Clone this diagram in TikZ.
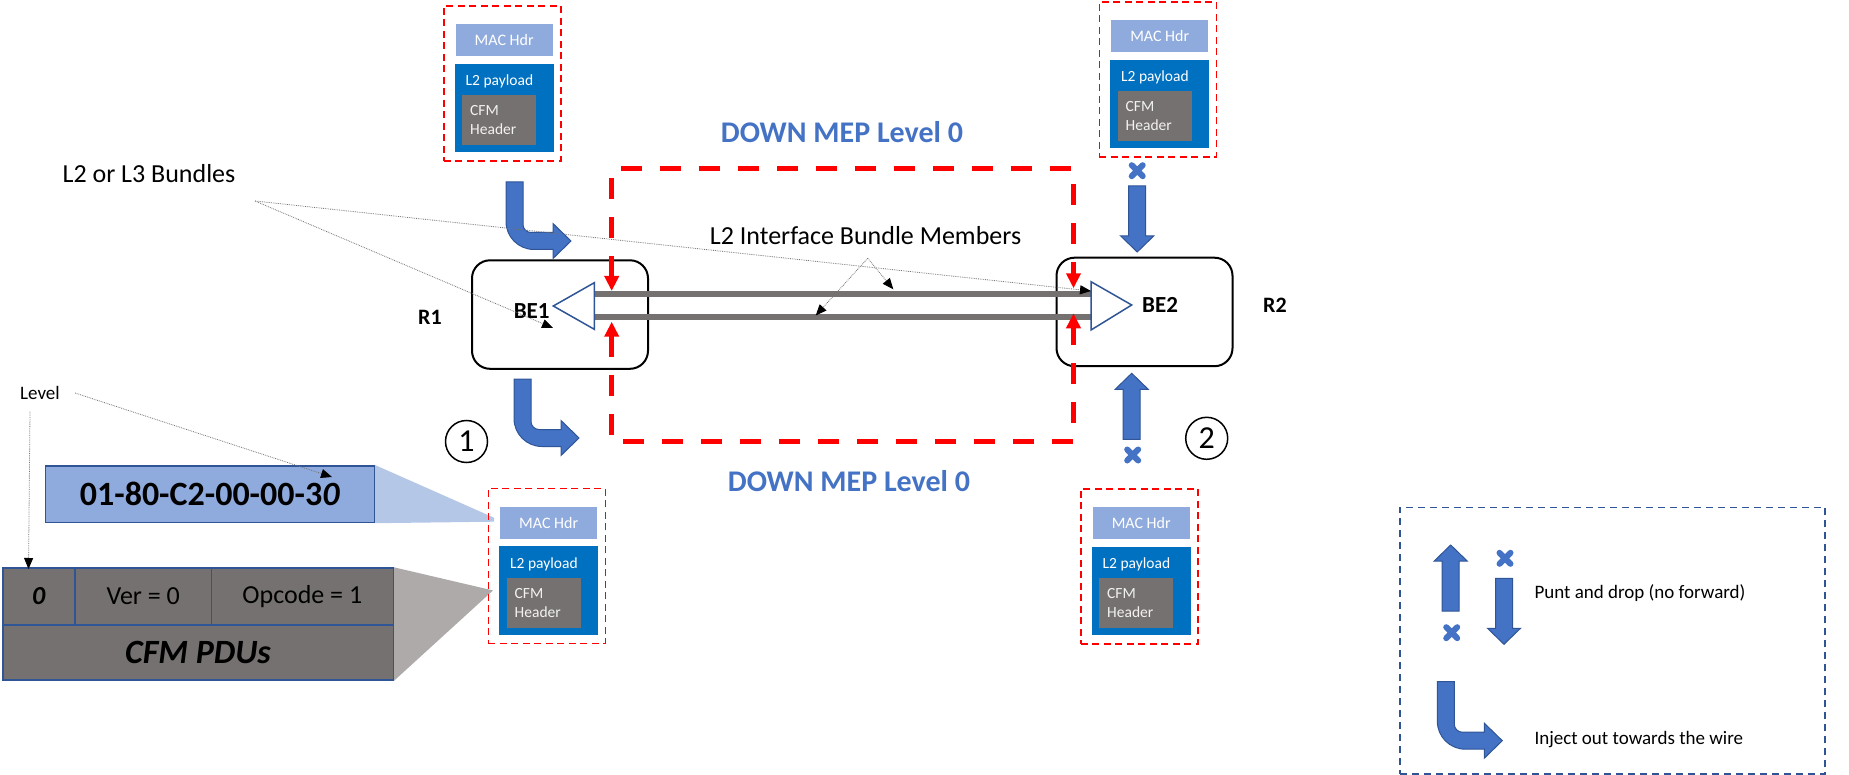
\documentclass[tikz,border=0pt]{standalone}
\usepackage{fontspec}
\setmainfont{Carlito}
\usetikzlibrary{arrows.meta,backgrounds}
\definecolor{arrowblue}{HTML}{4472C4}
\definecolor{darkblue}{HTML}{2F5597}
\definecolor{hdrblue}{HTML}{8FAADC}
\definecolor{payblue}{HTML}{0070C0}
\definecolor{cfmgrey}{HTML}{767171}
\definecolor{zoomblue}{HTML}{B4C7E7}
\definecolor{zoomgrey}{HTML}{AEAAAA}
\newcommand{\pxfont}[1]{\fontsize{#1}{#1}\selectfont}
\begin{document}
\begin{tikzpicture}[x=1pt, y=-1pt,
    pkt/.style={draw=red, dash pattern=on 7pt off 4.5pt, line width=1.6pt, minimum width=117pt, minimum height=155pt, anchor=north west, inner sep=0},
    machdr/.style={fill=hdrblue, minimum width=97pt, minimum height=32pt, anchor=north west, inner sep=0, text=white, font=\pxfont{16}},
    payload/.style={fill=payblue, minimum width=99pt, minimum height=88.5pt, anchor=north west, inner sep=0},
    paytext/.style={anchor=west, inner sep=0, text=white, font=\pxfont{15.5}},
    cfmhdr/.style={fill=cfmgrey, text width=58pt, inner xsep=8pt, inner ysep=0, minimum height=50pt, anchor=north west, align=left, text=white!95!black, font=\fontsize{15.5}{19}\selectfont},
    router/.style={draw, line width=2pt, rounded corners=18pt, minimum width=176pt, minimum height=108.5pt, anchor=north west, inner sep=0},
    tri/.style={draw=darkblue, fill=white, line width=1.5pt, line join=miter},
    member/.style={draw=cfmgrey, line width=6pt},
    mepline/.style={draw=red, line width=5pt, dash pattern=on 21pt off 18pt, {Triangle[width=14pt,length=15pt]}-{Triangle[width=14pt,length=15pt]}},
    mep/.style={text=arrowblue, font=\bfseries\pxfont{30}},
    pointer/.style={draw=black!55, line width=0.8pt, densely dotted, -{Triangle[color=black, width=9pt, length=11pt]}},
    blockarrow/.style={fill=arrowblue, draw=darkblue, line width=1pt, line join=miter},
    tcell/.style={draw=darkblue, fill=cfmgrey, line width=1.5pt, anchor=north west, inner sep=0, font=\pxfont{26}},
    circnum/.style={circle, draw, line width=1.5pt, minimum size=42pt, inner sep=0, font=\pxfont{32}},
    bentarrow/.pic={
        \draw[blockarrow] (0,0) -- (17,0) -- (17,42.5) .. controls (17,46.9) and (20.6,50.5) .. (25,50.5)
            -- (47,50.5) -- (47,41.5) -- (65,59) -- (47,76.5) -- (47,67.5) -- (28,67.5)
            .. controls (12.5,67.5) and (0,55) .. (0,39.5) -- cycle;
    },
    straightarrow/.pic={
        \draw[blockarrow] (-8.5,0) -- (8.5,0) -- (8.5,50) -- (16.5,50) -- (0,66) -- (-16.5,50) -- (-8.5,50) -- cycle;
    },
    dropmark/.pic={
        \draw[arrowblue, line width=6pt, line cap=round] (-5.5,-5.5) -- (5.5,5.5) (-5.5,5.5) -- (5.5,-5.5);
    }]
    \useasboundingbox (0,0) rectangle (1849,775);

    % Packets: frame, MAC header, L2 payload, CFM header
    \foreach \n/\px/\py in {a/443/5, b/1098.5/1, c/487.5/487.5, d/1080/488} {
        \node[pkt] (frame\n) at (\px,\py) {};
        \node[machdr] (mac\n) at (\px+12.5,\py+19) {MAC Hdr};
        \node[payload] (pay\n) at (\px+11.5,\py+58.5) {};
        \node[paytext] (payt\n) at (\px+22.5,\py+76.5) {L2 payload};
        \node[cfmhdr] (cfm\n) at (\px+19,\py+90) {CFM\\Header};
    }

    % Routers
    \node[router] (R1box) at (471,259.3) {};
    \node[router] (R2box) at (1055.5,256.7) {};
    \node[font=\bfseries\pxfont{22}] (r1) at (430,317.3) {R1};
    \node[font=\bfseries\pxfont{22}] (r2) at (1275,305) {R2};

    % Bundle members
    \coordinate (b1u) at (594.3,294.5);
    \coordinate (b1l) at (594.3,316.7);
    \coordinate (b2u) at (1091,294.5);
    \coordinate (b2l) at (1091,316.7);
    \draw[member] (b1u) -- (b2u);
    \draw[member] (b1l) -- (b2l);

    % Bundle interfaces
    \draw[tri] (594.3,282.7) -- (553.3,306) -- (594.3,329.3) -- cycle;
    \draw[tri] (1091,281.7) -- (1131.7,305) -- (1091,330) -- cycle;
    \node[font=\bfseries\pxfont{23}] (be1) at (531.7,310.7) {BE1};
    \node[font=\bfseries\pxfont{23}] (be2) at (1160,305) {BE2};

    % DOWN MEP boundary
    \coordinate (mepa) at (611.7,291);
    \coordinate (mepb) at (611.7,169);
    \coordinate (mepc) at (1073.5,169);
    \coordinate (mepd) at (1073.5,288.3);
    \coordinate (mepe) at (611.7,321.7);
    \coordinate (mepf) at (611.7,441);
    \coordinate (mepg) at (1073.5,441);
    \coordinate (meph) at (1073.5,313.3);
    \draw[mepline] (mepa) -- (mepb) -- (mepc) -- (mepd);
    \draw[mepline] (mepe) -- (mepf) -- (mepg) -- (meph);
    \node[mep] (meptop) at (842,131.7) {DOWN MEP Level 0};
    \node[mep] (mepbot) at (849,481) {DOWN MEP Level 0};

    % Injected and punted frames
    \pic at (506,182) {bentarrow};
    \pic at (514,379) {bentarrow};
    \pic at (1137.2,170.7) {dropmark};
    \pic at (1137.2,186) {straightarrow};
    \pic[rotate=180] at (1131.7,439.3) {straightarrow};
    \pic at (1132.7,455) {dropmark};
    \node[circnum] (one) at (466.5,441.5) {1};
    \node[circnum] (two) at (1206.7,438.3) {2};

    % MAC address and CFM PDU
    \node[fill=hdrblue, draw=darkblue, line width=1.5pt, minimum width=328.8pt, minimum height=56.7pt,
        anchor=north west, inner sep=0, font=\bfseries\pxfont{34}] (macaddr) at (44.7,465) {01-80-C2-00-00-3\textit{0}};
    \node[tcell, minimum width=72.3pt, minimum height=56.7pt] (lvlcell) at (2,567.3) {\textbf{\textit{0}}};
    \node[tcell, minimum width=136.4pt, minimum height=56.7pt] (vercell) at (74.3,567.3) {Ver = 0};
    \node[tcell, minimum width=181.8pt, minimum height=56.7pt] (opcell) at (210.7,567.3) {Opcode = 1};
    \node[tcell, minimum width=390.5pt, minimum height=55.3pt, font=\bfseries\itshape\pxfont{34}] (pducell) at (2,624) {CFM PDUs};
    \begin{pgfonlayer}{background}
        \fill[zoomblue] (macaddr.north east) -- ([xshift=-6pt,yshift=5pt]macc.west)
            -- ([xshift=-6pt,yshift=1pt]macc.west) -- (macaddr.south east) -- cycle;
        \fill[zoomgrey] (opcell.north east) -- ([xshift=-6pt]payc.west) -- (pducell.south east) -- cycle;
    \end{pgfonlayer}

    % Labels and pointers
    \node[font=\pxfont{26}] (bundles) at (149,173.3) {L2 or L3 Bundles};
    \coordinate (bun) at (255,201);
    \coordinate (be1pt) at (553,328);
    \coordinate (be2pt) at (1091,291);
    \draw[pointer] (bun) -- (be1pt);
    \draw[pointer] (bun) -- (be2pt);
    \node[font=\pxfont{26}] (members) at (865.5,235.7) {L2 Interface Bundle Members};
    \coordinate (memb) at (867.7,258.3);
    \coordinate (membu) at (893.3,289.3);
    \coordinate (membl) at (815.7,315.5);
    \draw[pointer] (memb) -- (membu);
    \draw[pointer] (memb) -- (membl);
    \node[font=\pxfont{19}] (level) at (40,393) {Level};
    \coordinate (lvla) at (75,393);
    \coordinate (lvlb) at (30,411.7);
    \coordinate (lvlmac) at (332,477);
    \coordinate (lvlcfm) at (28.5,569);
    \draw[pointer] (lvla) -- (lvlmac);
    \draw[pointer] (lvlb) -- (lvlcfm);

    % Legend
    \node[draw=darkblue, line width=1.5pt, dash pattern=on 7pt off 5pt, minimum width=425.3pt, minimum height=266.6pt,
        anchor=north west, inner sep=0] (legend) at (1399,506.7) {};
    \pic[rotate=180] at (1450.7,611) {straightarrow};
    \pic at (1451.7,632.7) {dropmark};
    \pic at (1505,558.3) {dropmark};
    \pic at (1504,578.3) {straightarrow};
    \node[anchor=west, inner sep=0, font=\pxfont{19}] (punt) at (1534.3,593.3) {Punt and drop (no forward)};
    \pic at (1437.3,681.7) {bentarrow};
    \node[anchor=west, inner sep=0, font=\pxfont{19}] (inject) at (1534.3,739.3) {Inject out towards the wire};
\end{tikzpicture}
\end{document}
